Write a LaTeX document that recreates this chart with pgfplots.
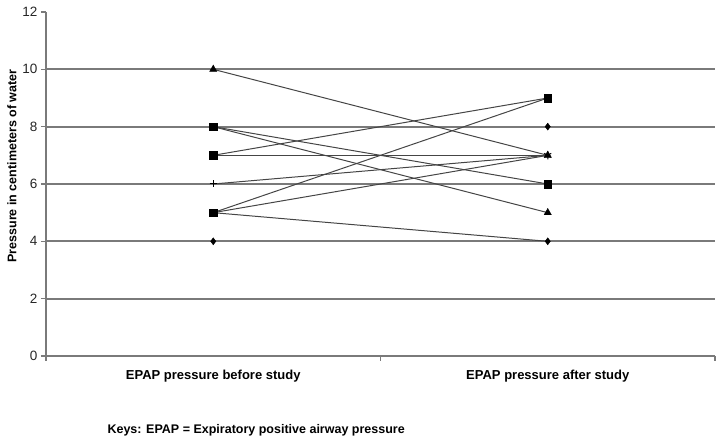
\documentclass[border=0pt]{standalone}
\usepackage{fontspec}
\setmainfont{Liberation Sans}
\usepackage{pgfplots}
\pgfplotsset{compat=1.18}
\definecolor{gridgray}{HTML}{7A7A7A}
\definecolor{linegray}{HTML}{454545}
\begin{document}
\begin{tikzpicture}[x=1pt,y=1pt]
\path[use as bounding box] (0,0) rectangle (716,444);
\begin{axis}[
  at={(46pt,88pt)}, anchor=south west,
  scale only axis, width=669pt, height=344pt,
  xmin=-0.5, xmax=1.5, ymin=0, ymax=12,
  axis x line*=bottom, axis y line*=left,
  axis line style={gridgray, line width=1.6pt, -},
  xtick={-0.5,0.5,1.5},
  x tick label as interval,
  xticklabels={EPAP pressure before study, EPAP pressure after study},
  ytick={0,2,...,12},
  extra y ticks={2,4,6,8,10},
  extra y tick labels={},
  extra y tick style={grid=major, major tick length=0pt},
  major grid style={gridgray, line width=1.8pt},
  tick align=outside, tick pos=left,
  major tick length=5pt,
  tick style={gridgray, line width=1.2pt},
  /pgf/number format/assume math mode=true,
  yticklabel style={font=\fontsize{13.5}{15}\selectfont, text=black!85, xshift=0pt},
  xticklabel style={font=\bfseries\fontsize{13}{15}\selectfont, yshift=-6pt},
  ylabel={Pressure in centimeters of water},
  ylabel style={font=\bfseries\fontsize{12.5}{14}\selectfont, at={(axis description cs:-0.051,0.552)}, anchor=center},
  dl/.style={linegray, line width=1pt, mark=none},
]
\addplot[dl] coordinates {(0,5) (1,4)};
\addplot[dl] coordinates {(0,5) (1,7)};
\addplot[dl] coordinates {(0,5) (1,9)};
\addplot[dl] coordinates {(0,6) (1,7)};
\addplot[dl] coordinates {(0,7) (1,7)};
\addplot[dl] coordinates {(0,7) (1,9)};
\addplot[dl] coordinates {(0,8) (1,6)};
\addplot[dl] coordinates {(0,8) (1,5)};
\addplot[dl] coordinates {(0,10) (1,7)};
% markers
\addplot[only marks, black, mark=square*, mark size=3.8pt] coordinates {(0,8) (0,7) (0,5) (1,9) (1,6)};
\addplot[only marks, black, mark=triangle*, mark size=4.2pt] coordinates {(0,10) (1,7) (1,5)};
\addplot[only marks, black, mark=diamond*, mark size=3.5pt] coordinates {(0,4) (1,8) (1,4)};
\addplot[only marks, black, mark=+, mark size=3.5pt, line width=1pt] coordinates {(0,6)};
\addplot[only marks, black, mark=asterisk, mark size=4pt, line width=1pt] coordinates {(1,7)};
\end{axis}
\node[anchor=west, font=\bfseries\fontsize{12.5}{14}\selectfont] at (104,14) {Keys: EPAP = Expiratory positive airway pressure};
\end{tikzpicture}
\end{document}
